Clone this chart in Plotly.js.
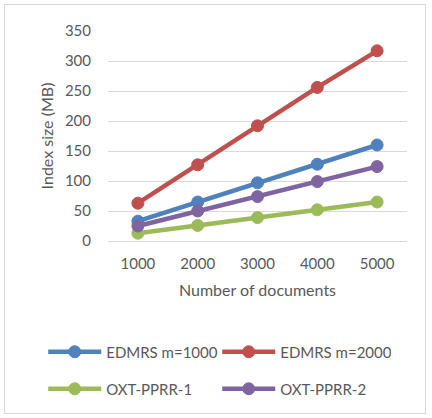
<!DOCTYPE html>
<html>
<head>
<meta charset="utf-8">
<script src="https://cdn.plot.ly/plotly-3.0.1.min.js"></script>
<style>
html,body{margin:0;padding:0;background:#fff;}
#wrap{position:relative;width:432px;height:418px;}
#chart{width:432px;height:418px;}
#frame{position:absolute;left:4px;top:4px;width:422px;height:410px;border:1px solid #d9d9d9;box-sizing:border-box;pointer-events:none;}
</style>
</head>
<body>
<div id="wrap"><div id="chart"></div><div id="frame"></div></div>
<script>
const categories = ["1000", "2000", "3000", "4000", "5000"];
const seriesNames = ["EDMRS m=1000", "EDMRS m=2000", "OXT-PPRR-1", "OXT-PPRR-2"];
const edmrs1000 = [33, 65, 97, 128, 160];
const edmrs2000 = [63, 127, 192, 256, 317];
const oxt1 = [13, 26, 39, 52, 65];
const oxt2 = [25, 50, 74, 99, 124];
const yTicks = [0, 50, 100, 150, 200, 250, 300, 350];
const colors = ["#4F81BD", "#C0504D", "#9BBB59", "#8064A2"];
const legendRows = ["legend", "legend", "legend2", "legend2"];

const seriesData = [edmrs1000, edmrs2000, oxt1, oxt2];
const traces = seriesData.map((vals, i) => ({
  type: "scatter",
  mode: "lines+markers",
  name: seriesNames[i],
  legend: legendRows[i],
  x: categories,
  y: vals,
  line: {color: colors[i], width: 4.5},
  marker: {color: colors[i], size: 12, line: {color: colors[i], width: 1}},
  cliponaxis: false
}));

const font = {family: "Lato, 'Open Sans', sans-serif", size: 15, color: "#595959"};
const titleFont = {family: "Lato, 'Open Sans', sans-serif", size: 16, color: "#595959"};

function legendAt(yPix) {
  return {
    orientation: "h",
    xref: "paper",
    yref: "paper",
    x: (43 - 108) / 300,
    xanchor: "left",
    y: (241 - yPix) / 210,
    yanchor: "middle",
    itemwidth: 53,
    entrywidth: 106,
    font: font,
    bgcolor: "rgba(0,0,0,0)"
  };
}

const layout = {
  width: 432,
  height: 418,
  margin: {l: 108, r: 25, t: 31, b: 177},
  paper_bgcolor: "#ffffff",
  plot_bgcolor: "#ffffff",
  font: font,
  showlegend: true,
  xaxis: {
    type: "category",
    range: [-0.5, 4.5],
    showgrid: false,
    showline: false,
    zeroline: false,
    ticks: "",
    tickfont: font,
    ticklabelstandoff: 12,
    title: {text: "Number of documents", font: titleFont, standoff: 13}
  },
  yaxis: {
    range: [0, 350],
    tickvals: yTicks,
    ticktext: yTicks.map(String),
    showgrid: true,
    gridcolor: "#d9d9d9",
    gridwidth: 1,
    zeroline: true,
    zerolinecolor: "#d9d9d9",
    zerolinewidth: 1,
    showline: false,
    ticks: "",
    tickfont: font,
    ticklabelstandoff: 16,
    title: {text: "Index size (MB)", font: titleFont, standoff: 7}
  },
  legend: legendAt(352),
  legend2: legendAt(389)
};

Plotly.newPlot("chart", traces, layout, {displayModeBar: false, staticPlot: true});
</script>
</body>
</html>
